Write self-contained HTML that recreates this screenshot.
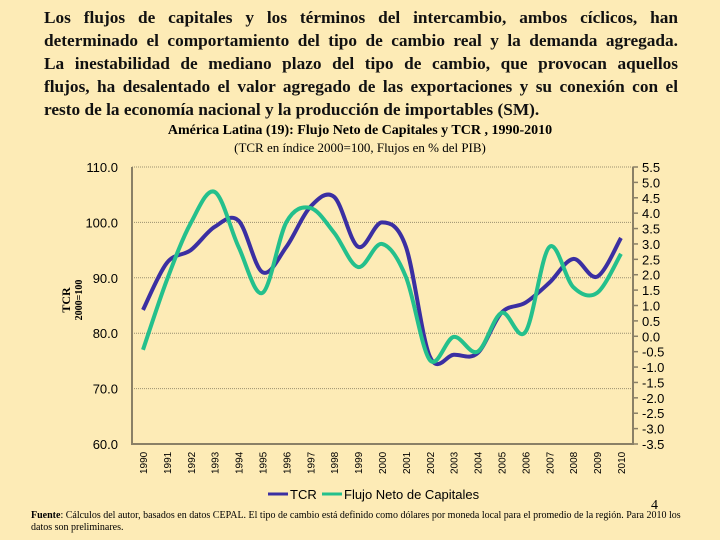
<!DOCTYPE html>
<html><head><meta charset="utf-8"><style>
body{margin:0;width:720px;height:540px;background:#fdebb6;overflow:hidden;font-family:"Liberation Serif",serif;}
#intro{position:absolute;left:44px;top:6px;width:634px;font-weight:bold;font-size:17.3px;line-height:23px;color:#111;}
#intro div{text-align:justify;text-align-last:justify;white-space:nowrap;}
#intro div.last{text-align-last:left;}
</style></head><body>
<div id="intro">
<div>Los flujos de capitales y los términos del intercambio, ambos cíclicos, han</div>
<div>determinado el comportamiento del tipo de cambio real y la demanda agregada.</div>
<div>La inestabilidad de mediano plazo del tipo de cambio, que provocan aquellos</div>
<div>flujos, ha desalentado el valor agregado de las exportaciones y su conexión con el</div>
<div class="last">resto de la economía nacional y la producción de importables (SM).</div>
</div>
<svg id="chart" width="720" height="540" style="position:absolute;left:0;top:0"></svg>
<script>
const years=[1990,1991,1992,1993,1994,1995,1996,1997,1998,1999,2000,2001,2002,2003,2004,2005,2006,2007,2008,2009,2010];
const tcr=[84.2,92.7,95,99.2,100.3,91,95.6,102.8,104.6,95.6,100,95.6,75.8,76.1,76.4,83.7,85.5,89.1,93.4,90.2,97.2];
const flujo=[-0.44,1.83,3.68,4.69,2.9,1.41,3.71,4.17,3.36,2.25,3.0,1.93,-0.77,-0.02,-0.5,0.76,0.14,2.9,1.6,1.41,2.68];
const leftTicks=[110,100,90,80,70,60];
const rightTicks=[5.5,5,4.5,4,3.5,3,2.5,2,1.5,1,0.5,0,-0.5,-1,-1.5,-2,-2.5,-3,-3.5];
const NS="http://www.w3.org/2000/svg",svg=document.getElementById('chart');
const L=132,R=633,T=167,B=444;
const x=i=>143+i*(621-143)/(years.length-1);
const yl=v=>T+(110-v)*(B-T)/50;
const yr=v=>T+(5.5-v)*(B-T)/9;
function el(t,a,txt){const e=document.createElementNS(NS,t);for(const k in a)e.setAttribute(k,a[k]);if(txt!==undefined)e.textContent=txt;svg.appendChild(e);return e;}
let e;
e=el('text',{x:360,y:134,'text-anchor':'middle','font-size':'14','font-weight':'bold','font-family':'Liberation Serif,serif'},'América Latina (19): Flujo Neto de Capitales y TCR , 1990-2010');

e=el('text',{x:360,y:152,'text-anchor':'middle','font-size':'13','font-family':'Liberation Serif,serif'},'(TCR en índice 2000=100, Flujos en % del PIB)');

leftTicks.forEach(v=>{
 if(v>60){e=el('line',{x1:L,x2:R,y1:yl(v),y2:yl(v),stroke:'#9a9070','stroke-dasharray':'1 1'});}
 e=el('text',{x:118,y:yl(v)+5,'text-anchor':'end','font-size':'13','font-family':'Liberation Sans,sans-serif'},v.toFixed(1));
 
});
rightTicks.forEach(v=>{
 e=el('line',{x1:R,x2:R+5,y1:yr(v),y2:yr(v),stroke:'#8a8066','stroke-width':1.5});
 e=el('text',{x:642,y:yr(v)+5,'font-size':'13','font-family':'Liberation Sans,sans-serif'},v.toFixed(1));
 
});
e=el('polyline',{points:`${L},${T} ${L},${B} ${R},${B} ${R},${T}`,fill:'none',stroke:'#8a8066','stroke-width':2});

years.forEach((yv,i)=>{
 e=el('text',{transform:`translate(${x(i)+4},${B+30}) rotate(-90)`,'font-size':'10','font-family':'Liberation Sans,sans-serif'},yv);
 
});
e=el('text',{transform:'translate(70,300) rotate(-90)','text-anchor':'middle','font-size':'12','font-weight':'bold','font-family':'Liberation Serif,serif'},'TCR');

e=el('text',{transform:'translate(82,300) rotate(-90)','text-anchor':'middle','font-size':'10','font-weight':'bold','font-family':'Liberation Serif,serif'},'2000=100');

function smooth(pts){let d=`M${pts[0][0]},${pts[0][1]}`;for(let i=0;i<pts.length-1;i++){const p0=pts[Math.max(0,i-1)],p1=pts[i],p2=pts[i+1],p3=pts[Math.min(pts.length-1,i+2)];d+=` C${p1[0]+(p2[0]-p0[0])/6},${p1[1]+(p2[1]-p0[1])/6} ${p2[0]-(p3[0]-p1[0])/6},${p2[1]-(p3[1]-p1[1])/6} ${p2[0]},${p2[1]}`;}return d;}
e=el('path',{d:smooth(tcr.map((v,i)=>[x(i),yl(v)])),fill:'none',stroke:'#3b2fa2','stroke-width':4});

e=el('path',{d:smooth(flujo.map((v,i)=>[x(i),yr(v)])),fill:'none',stroke:'#24c08c','stroke-width':4});

e=el('line',{x1:268,x2:288,y1:494,y2:494,stroke:'#3b2fa2','stroke-width':3});
e=el('text',{x:290,y:499,'font-size':'13','font-family':'Liberation Sans,sans-serif'},'TCR');
e=el('line',{x1:322,x2:342,y1:494,y2:494,stroke:'#24c08c','stroke-width':3});
e=el('text',{x:344,y:499,'font-size':'13','font-family':'Liberation Sans,sans-serif'},'Flujo Neto de Capitales');
e=el('text',{x:651,y:509,'font-size':'14','font-family':'Liberation Serif,serif'},'4');
e=el('text',{x:31,y:518,'font-size':'10','font-family':'Liberation Serif,serif'});
e.innerHTML='<tspan font-weight="bold">Fuente</tspan>: Cálculos del autor, basados en datos CEPAL. El tipo de cambio está definido como dólares por moneda local para el promedio de la región.  Para 2010 los';
e=el('text',{x:31,y:530,'font-size':'10','font-family':'Liberation Serif,serif'},'datos son preliminares.');
</script>
</body></html>
